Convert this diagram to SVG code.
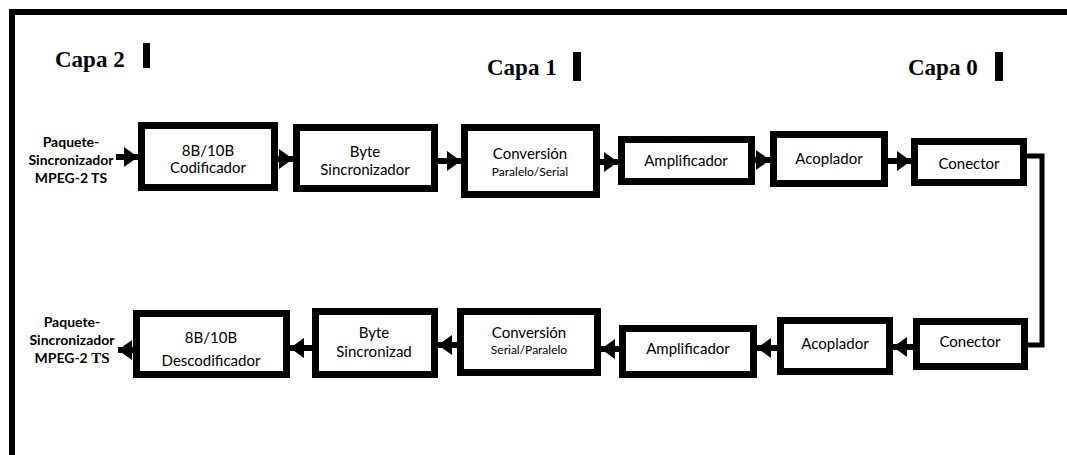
<svg xmlns="http://www.w3.org/2000/svg" width="1067" height="455" viewBox="0 0 1067 455">
<defs>
<style>
.box{fill:#fff;stroke:#000;stroke-width:7}
.t{font-family:Lato,"Liberation Sans",sans-serif;font-size:15px;fill:#000;text-anchor:middle}
.s{font-size:12px}
.lbl{font-family:Lato,"Liberation Sans",sans-serif;font-size:14px;font-weight:bold;fill:#000;text-anchor:middle}
.capa{font-family:"Liberation Serif",serif;font-size:23px;font-weight:bold;fill:#000}
.ar{fill:none;stroke:#000;stroke-width:6;marker-end:url(#ah)}
.ln{fill:none;stroke:#000;stroke-width:5}
</style>
<marker id="ah" markerUnits="userSpaceOnUse" markerWidth="14" markerHeight="20" viewBox="0 0 14 20" refX="14" refY="10" orient="auto">
<path d="M0,0 L14,10 L0,20 Z" fill="#000"/>
</marker>
</defs>
<rect width="1067" height="455" fill="#fff"/>
<path d="M12,455 V12 H1067" fill="none" stroke="#000" stroke-width="6"/>

<g id="layers">
<text class="capa" x="55" y="67">Capa 2</text>
<rect x="143" y="43" width="7" height="25" fill="#000"/>
<text class="capa" x="487" y="75">Capa 1</text>
<rect x="573" y="52" width="8" height="29" fill="#000"/>
<text class="capa" x="908" y="75">Capa 0</text>
<rect x="995" y="52" width="8" height="29" fill="#000"/>
</g>

<g id="in-label">
<text class="lbl" x="71" y="147">Paquete-</text>
<text class="lbl" x="71" y="165">Sincronizador</text>
<text class="lbl" x="71" y="183">MPEG-2 TS</text>
</g>
<g id="out-label">
<text class="lbl" x="72" y="327">Paquete-</text>
<text class="lbl" x="72" y="345">Sincronizador</text>
<text class="lbl" x="72" y="363">MPEG-2 <tspan font-family="Liberation Serif,serif" font-size="15px">TS</tspan></text>
</g>

<g id="codificador">
<rect class="box" x="141.5" y="125.5" width="133" height="62"/>
<text class="t" x="208" y="156">8B/10B</text>
<text class="t" x="208" y="173">Codificador</text>
</g>
<g id="byte-sinc-tx">
<rect class="box" x="296.5" y="127.5" width="138" height="61"/>
<text class="t" x="365" y="157">Byte</text>
<text class="t" x="365" y="175">Sincronizador</text>
</g>
<g id="conv-ps">
<rect class="box" x="464.5" y="127.5" width="132" height="67"/>
<text class="t" x="530" y="159">Conversión</text>
<text class="t s" x="530" y="176">Paralelo/Serial</text>
</g>
<g id="amp-tx">
<rect class="box" x="621.5" y="139.5" width="130" height="42"/>
<text class="t" x="686" y="166">Amplificador</text>
</g>
<g id="acop-tx">
<rect class="box" x="773.5" y="134.5" width="111" height="49"/>
<text class="t" x="829" y="164">Acoplador</text>
</g>
<g id="conector-tx">
<rect class="box" x="914.5" y="141.5" width="109" height="41"/>
<text class="t" x="969" y="169">Conector</text>
</g>

<g id="descodificador">
<rect class="box" x="136.5" y="313.5" width="150" height="61"/>
<text class="t" x="211" y="343">8B/10B</text>
<text class="t" x="211" y="366">Descodificador</text>
</g>
<g id="byte-sinc-rx">
<rect class="box" x="315.5" y="311.5" width="119" height="63"/>
<text class="t" x="374" y="338">Byte</text>
<text class="t" x="374" y="357">Sincronizad</text>
</g>
<g id="conv-sp">
<rect class="box" x="460.5" y="311.5" width="137" height="61"/>
<text class="t" x="529" y="338">Conversión</text>
<text class="t s" x="529" y="354">Serial/Paralelo</text>
</g>
<g id="amp-rx">
<rect class="box" x="622.5" y="328.5" width="131" height="46"/>
<text class="t" x="688" y="354">Amplificador</text>
</g>
<g id="acop-rx">
<rect class="box" x="780.5" y="320.5" width="109" height="51"/>
<text class="t" x="835" y="349">Acoplador</text>
</g>
<g id="conector-rx">
<rect class="box" x="916.5" y="321.5" width="108" height="45"/>
<text class="t" x="970" y="347">Conector</text>
</g>

<g id="connectors">
<path class="ar" d="M116,157 H138"/>
<path class="ar" d="M277,159 H293"/>
<path class="ar" d="M438,161 H461"/>
<path class="ar" d="M598,162 H618"/>
<path class="ar" d="M755,160 H770"/>
<path class="ar" d="M888,161 H911"/>
<path class="ln" d="M1027,156 H1042 V345 H1028"/>
<path class="ar" d="M913,347 H893"/>
<path class="ar" d="M777,348 H757"/>
<path class="ar" d="M619,349 H601"/>
<path class="ar" d="M457,345 H438"/>
<path class="ar" d="M312,348 H290"/>
<path class="ar" d="M133,350 H118"/>
</g>
</svg>
